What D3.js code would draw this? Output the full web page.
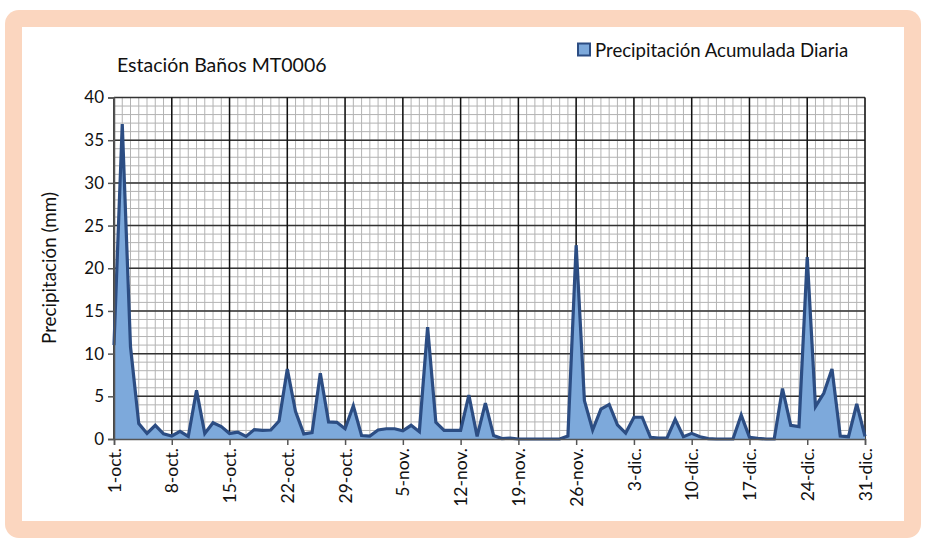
<!DOCTYPE html>
<html>
<head>
<meta charset="utf-8">
<script src="https://cdn.jsdelivr.net/npm/d3@7"></script>
<style>
  body { margin: 0; background: #fff; }
  svg { display: block; font-family: Lato, "Open Sans", sans-serif; }
</style>
</head>
<body>
<svg id="chart" width="926" height="545"></svg>
<script>
/************************************************ Data ***********************************/

// daily precipitation (mm), 1-oct .. 31-dic
var precip = [
  11, 36.9, 10.8, 1.8, 0.65, 1.6, 0.6, 0.35, 0.9, 0.3,
  5.7, 0.65, 1.9, 1.45, 0.65, 0.8, 0.3, 1.1, 1.0, 1.05,
  2.1, 8.2, 3.2, 0.6, 0.75, 7.7, 2.0, 1.95, 1.2, 3.9,
  0.4, 0.35, 1.05, 1.2, 1.2, 0.95, 1.6, 0.85, 13.1, 1.95,
  1.0, 1.0, 1.0, 5.15, 0.3, 4.2, 0.4, 0.05, 0.1, 0,
  0, 0, 0, 0, 0, 0.35, 22.7, 4.5, 1.05, 3.5,
  4.05, 1.65, 0.7, 2.55, 2.55, 0.2, 0.12, 0.1, 2.3, 0.27,
  0.66, 0.27, 0.04, 0, 0, 0, 2.8, 0.2, 0.08, 0,
  0, 5.9, 1.6, 1.45, 21.3, 3.8, 5.35, 8.2, 0.35, 0.27,
  4.1, 0.3
];

var tickLabels = ["1-oct.", "8-oct.", "15-oct.", "22-oct.", "29-oct.", "5-nov.", "12-nov.",
                  "19-nov.", "26-nov.", "3-dic.", "10-dic.", "17-dic.", "24-dic.", "31-dic."];
var yTicks = [0, 5, 10, 15, 20, 25, 30, 35, 40];

var title = "Estación Baños MT0006";
var seriesName = "Precipitación Acumulada Diaria";
var yTitle = "Precipitación (mm)";

/************************************************ Frame ***********************************/

var svg = d3.select("#chart");

svg.append("rect")
    .attr("x", 5).attr("y", 10).attr("width", 916).attr("height", 528)
    .attr("rx", 14).attr("fill", "#fbd6bf");
svg.append("rect")
    .attr("x", 22).attr("y", 27).attr("width", 882).attr("height", 494)
    .attr("fill", "#fff");

/************************************************ Scales ***********************************/

var plotL = 114, plotR = 865, plotT = 97.5, plotB = 439;

var x = d3.scaleLinear().domain([0, precip.length - 1]).range([plotL, plotR]);
var y = d3.scaleLinear().domain([0, 40]).range([plotB, plotT]);

/************************************************ Grid ***********************************/

var grid = svg.append("g");

// minor lines: every day, every mm
grid.selectAll(".vmin").data(d3.range(precip.length)).enter().append("line")
    .attr("x1", d => x(d)).attr("x2", d => x(d))
    .attr("y1", plotT).attr("y2", plotB)
    .attr("stroke", "#b3b3b3").attr("stroke-width", 1);

grid.selectAll(".hmin").data(d3.range(0, 41)).enter().append("line")
    .attr("x1", plotL).attr("x2", plotR)
    .attr("y1", d => y(d)).attr("y2", d => y(d))
    .attr("stroke", "#b3b3b3").attr("stroke-width", 1);

// major lines
grid.selectAll(".hmaj").data(yTicks).enter().append("line")
    .attr("x1", plotL).attr("x2", plotR)
    .attr("y1", d => y(d)).attr("y2", d => y(d))
    .attr("stroke", "#333").attr("stroke-width", 1.5);

grid.selectAll(".vmaj").data(tickLabels).enter().append("line")
    .attr("x1", (d, i) => x(i * 7)).attr("x2", (d, i) => x(i * 7))
    .attr("y1", plotT).attr("y2", plotB)
    .attr("stroke", "#111").attr("stroke-width", 1.5);

/************************************************ Area + line ***********************************/

var area = d3.area()
    .x((d, i) => x(i))
    .y0(y(0))
    .y1(d => y(d));

var line = d3.line()
    .x((d, i) => x(i))
    .y(d => y(d));

svg.append("path").datum(precip)
    .attr("d", area)
    .attr("fill", "#7da9db");

svg.append("path").datum(precip)
    .attr("d", line)
    .attr("fill", "none")
    .attr("stroke", "#2c4d83")
    .attr("stroke-width", 3.2)
    .attr("stroke-linejoin", "miter");

/************************************************ Axes ***********************************/

var yAxis = d3.axisLeft(y).tickValues(yTicks).tickSize(6).tickPadding(4);
var gy = svg.append("g").attr("transform", "translate(" + plotL + ",0)").call(yAxis);
gy.select(".domain").attr("stroke", "#555").attr("stroke-width", 1.5);
gy.selectAll(".tick line").attr("stroke", "#555").attr("stroke-width", 1.5);
gy.selectAll(".tick text")
    .attr("font-size", 17).attr("fill", "#111")
    .style("font-family", "Lato, 'Open Sans', sans-serif");

var xAxis = d3.axisBottom(x)
    .tickValues(d3.range(0, precip.length, 7))
    .tickFormat((d, i) => tickLabels[i])
    .tickSize(6).tickPadding(6);
var gx = svg.append("g").attr("transform", "translate(0," + plotB + ")").call(xAxis);
gx.select(".domain").attr("stroke", "#555").attr("stroke-width", 1.5);
gx.selectAll(".tick line").attr("stroke", "#555").attr("stroke-width", 1.5);
gx.selectAll(".tick text")
    .attr("font-size", 17.5).attr("fill", "#111")
    .style("font-family", "Lato, 'Open Sans', sans-serif")
    .attr("transform", "rotate(-90)")
    .attr("text-anchor", "end")
    .attr("x", -9).attr("y", 0).attr("dy", "0.35em");

/************************************************ Texts ***********************************/

svg.append("text")
    .attr("x", 117).attr("y", 72)
    .attr("font-size", 19.5).attr("fill", "#111")
    .text(title);

svg.append("text")
    .attr("transform", "translate(56,268) rotate(-90)")
    .attr("text-anchor", "middle")
    .attr("font-size", 18.8).attr("fill", "#111")
    .text(yTitle);

// legend
svg.append("rect")
    .attr("x", 578).attr("y", 43.5).attr("width", 12).attr("height", 12)
    .attr("fill", "#7da9db").attr("stroke", "#2c4d83").attr("stroke-width", 2);
svg.append("text")
    .attr("x", 595).attr("y", 57)
    .attr("font-size", 18.6).attr("fill", "#111")
    .text(seriesName);
</script>
</body>
</html>
